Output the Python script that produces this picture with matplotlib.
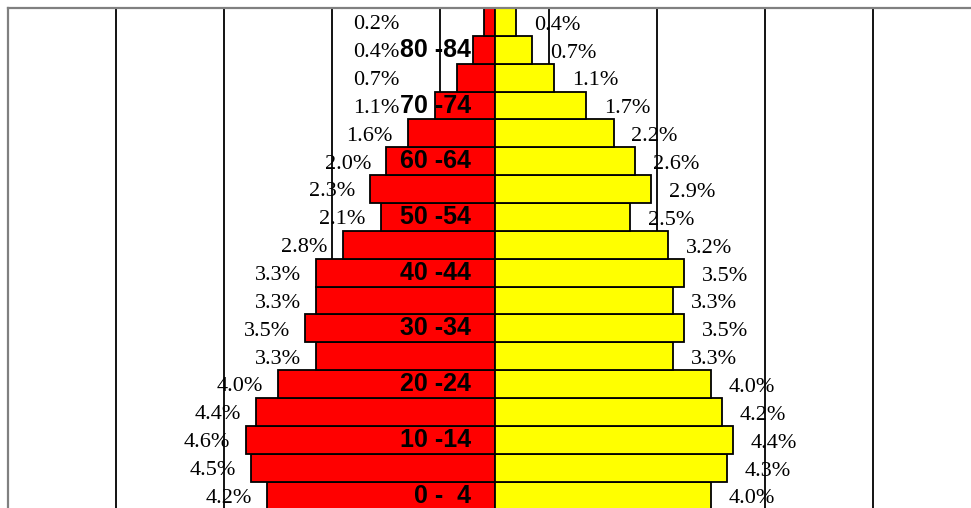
import matplotlib
matplotlib.use("Agg")
import matplotlib.pyplot as plt

# Age groups from youngest (bottom) to oldest (top)
age_groups = ["0-4", "5-9", "10-14", "15-19", "20-24", "25-29", "30-34", "35-39",
              "40-44", "45-49", "50-54", "55-59", "60-64", "65-69", "70-74",
              "75-79", "80-84", "85+"]
# Labels shown on the chart (every other group)
age_labels = ["0 -\u20074", "", "10 -14", "", "20 -24", "", "30 -34", "",
              "40 -44", "", "50 -54", "", "60 -64", "", "70 -74", "",
              "80 -84", ""]
# Percent of population (left, red) and (right, yellow)
left_pct = [4.2, 4.5, 4.6, 4.4, 4.0, 3.3, 3.5, 3.3, 3.3, 2.8, 2.1, 2.3, 2.0,
            1.6, 1.1, 0.7, 0.4, 0.2]
right_pct = [4.0, 4.3, 4.4, 4.2, 4.0, 3.3, 3.5, 3.3, 3.5, 3.2, 2.5, 2.9, 2.6,
             2.2, 1.7, 1.1, 0.7, 0.4]
grid_x = [-7, -5, -3, -1, 1, 3, 5, 7]

W, H = 971, 508
fig = plt.figure(figsize=(W / 100, H / 100), dpi=100)
# axes extends slightly beyond the right/bottom of the image (as in the reference)
left_px, right_px, top_px, bottom_px = 7.5, 981.5, 8.0, 509.5
ax = fig.add_axes([left_px / W, (H - bottom_px) / H,
                   (right_px - left_px) / W, (bottom_px - top_px) / H])
ax.set_xlim(-9, 9)
ax.set_ylim(-0.5, len(age_groups) - 0.5)

ax.vlines(grid_x, -0.5, len(age_groups) - 0.5, colors="black", linewidth=1.3, zorder=1)

y = list(range(len(age_groups)))
ax.barh(y, [-v for v in left_pct], height=1.0, color="#ff0000",
        edgecolor="black", linewidth=1.3, zorder=2)
ax.barh(y, right_pct, height=1.0, color="#ffff00",
        edgecolor="black", linewidth=1.3, zorder=2)

serif = ["Liberation Serif", "DejaVu Serif"]
sans = ["Liberation Sans", "DejaVu Sans"]
gap_l = 0.28
gap_r = 0.33
for i, (lv, rv) in enumerate(zip(left_pct, right_pct)):
    lx = min(-lv - gap_l, -1.76)
    ax.text(lx, i - 0.1, f"{lv:.1f}%", ha="right", va="center",
            fontsize=16, family=serif, color="black", zorder=4)
    ax.text(rv + gap_r, i - 0.12, f"{rv:.1f}%", ha="left", va="center",
            fontsize=16, family=serif, color="black", zorder=4)
    if age_labels[i]:
        ax.text(-0.44, i, age_labels[i], ha="right", va="center",
                fontsize=18, fontweight="bold", family=sans,
                color="black", zorder=5)

ax.set_xticks([])
ax.set_yticks([])
for s in ax.spines.values():
    s.set_color("#808080")
    s.set_linewidth(1.6)

fig.savefig("out.png", dpi=100)
